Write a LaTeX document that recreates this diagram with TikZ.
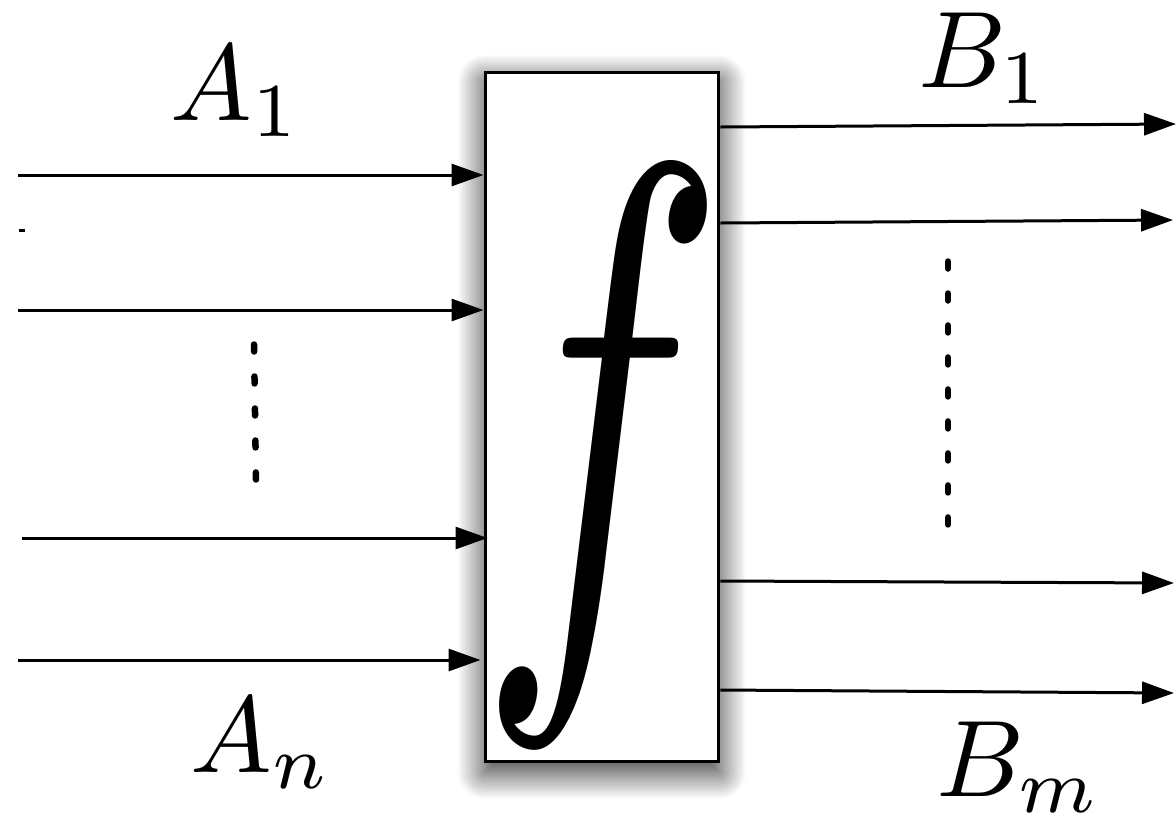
\documentclass[tikz,border=0pt]{standalone}
\usepackage{graphicx}
\usetikzlibrary{arrows.meta,shadows.blur}
\tikzset{
  conn/.style={line width=0.06cm, -{Triangle[length=0.64cm,width=0.44cm]}},
  fbox/.style={draw, line width=0.06cm, fill=white, inner sep=0pt,
    minimum width=4.68cm, minimum height=13.8cm,
    blur shadow={shadow xshift=0cm, shadow yshift=-0.2cm, shadow blur radius=0.55cm,
      shadow blur steps=25, shadow opacity=85}},
  lab/.style={anchor=base west, inner sep=0pt},
  vdots/.style={line width=0.13cm, line cap=round, dash pattern=on 0.14cm off 0.5cm}
}
\newcommand{\biglab}[1]{\scalebox{6.2}{$#1$}}
\begin{document}
\begin{tikzpicture}[x=0.02cm,y=-0.02cm]
\useasboundingbox (0,0) rectangle (1176,819);
\node[fbox] (box) at (602,417) {};
\node[anchor=base west, inner sep=0pt] (fsym) at (477,617) {\scalebox{23.7}[36.9]{$f$}};
% left inputs
\coordinate (i1) at (18,175);
\coordinate (i2) at (18,310);
\coordinate (i3) at (22,538);
\coordinate (i4) at (18,660);
\draw[conn] (i1) -- (i1 -| box.west);
\draw[conn] (i2) -- (i2 -| box.west);
\draw[conn] (i3) -- ([xshift=0.08cm]i3 -| box.west);
\draw[conn] (i4) -- ([xshift=-0.06cm]i4 -| box.west);
% right outputs
\coordinate (s1) at (box.east |- 0,127);
\coordinate (s2) at (box.east |- 0,223);
\coordinate (s3) at (box.east |- 0,581);
\coordinate (s4) at (box.east |- 0,690);
\coordinate (o1) at (1176,124);
\coordinate (o2) at (1173,220);
\coordinate (o3) at (1174,583);
\coordinate (o4) at (1174,693);
\draw[conn] (s1) -- (o1);
\draw[conn] (s2) -- (o2);
\draw[conn] (s3) -- (o3);
\draw[conn] (s4) -- (o4);
% stray dot
\coordinate (d1) at (19,230);
\coordinate (d2) at (25,230);
\draw[line width=0.06cm] (d1) -- (d2);
% vertical dots
\coordinate (v1) at (254,344.5);
\coordinate (v2) at (256,480);
\draw[vdots] (v1) -- (v2);
\coordinate (w1) at (948,261.5);
\coordinate (w2) at (948,525.5);
\draw[vdots] (w1) -- (w2);
% labels
\node[lab] (a1) at (170,120) {\biglab{A_1}};
\node[lab] (an) at (190,772) {\biglab{A_n}};
\node[lab] (b1) at (918,87) {\biglab{B_1}};
\node[lab] (bm) at (936,796) {\biglab{B_m}};
\end{tikzpicture}
\end{document}
